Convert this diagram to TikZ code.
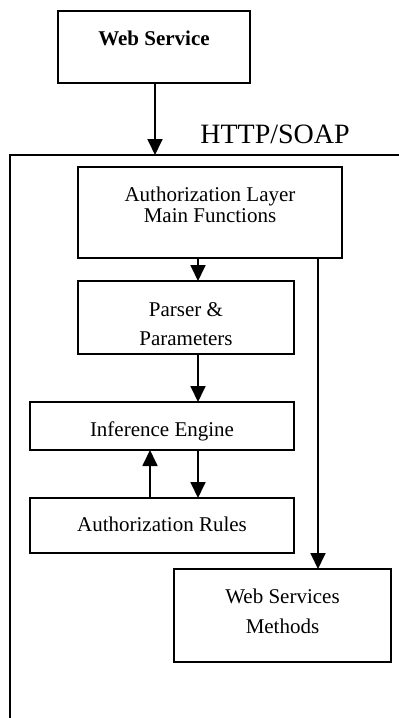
\documentclass[tikz,border=0pt]{standalone}
\usepackage{fontspec}
\setmainfont{Liberation Serif}
\usetikzlibrary{arrows.meta}
\newcommand{\btext}[2]{\raisebox{#1}[0pt][0pt]{\begin{tabular}[t]{@{}c@{}}#2\end{tabular}}}
\begin{document}
\begin{tikzpicture}[x=1pt,y=-1pt,
  box/.style={draw, line width=1.8pt, inner sep=0pt, outer sep=0pt, font=\fontsize{21pt}{21pt}\selectfont},
  arr/.style={line width=1.8pt, -{Triangle[length=16pt,width=15pt]}}]
\useasboundingbox (0,0) rectangle (399,718);
\clip (0,0) rectangle (399,718);
\node[box, minimum width=192pt, minimum height=72pt, font=\fontsize{21pt}{21pt}\selectfont\bfseries] (ws) at (154,47) {\btext{2pt}{Web Service}};
\node[box, anchor=north west, minimum width=440pt, minimum height=600pt] (outer) at (10,155) {};
\node[anchor=base, inner sep=0pt, font=\fontsize{28pt}{28pt}\selectfont] (http) at (275,143) {HTTP/SOAP};
\node[box, minimum width=264pt, minimum height=91pt] (auth) at (210,212.5) {\btext{11.5pt}{Authorization Layer\\[0.5pt]Main Functions}};
\node[box, minimum width=216pt, minimum height=73pt] (parser) at (186,317.5) {\btext{1.5pt}{Parser \&\\[8pt]Parameters}};
\node[box, minimum width=264pt, minimum height=48pt] (inf) at (162,426) {\btext{-10pt}{Inference Engine}};
\node[box, minimum width=264pt, minimum height=55pt] (rules) at (162,525.5) {\btext{-6pt}{Authorization Rules}};
\node[box, minimum width=217pt, minimum height=93pt] (wsm) at (282.5,615.5) {\btext{12pt}{Web Services\\[9pt]Methods}};
\coordinate (px) at (198,0);
\coordinate (qx) at (150,0);
\coordinate (rx) at (318,0);
\coordinate (sx) at (155,0);
\draw[arr] (ws.south -| sx) -- (outer.north -| sx);
\draw[arr] (auth.south -| px) -- (parser.north -| px);
\draw[arr] (parser.south -| px) -- (inf.north -| px);
\draw[arr] (inf.south -| px) -- (rules.north -| px);
\draw[arr] (rules.north -| qx) -- (inf.south -| qx);
\draw[arr] (auth.south -| rx) -- (wsm.north -| rx);
\end{tikzpicture}
\end{document}
